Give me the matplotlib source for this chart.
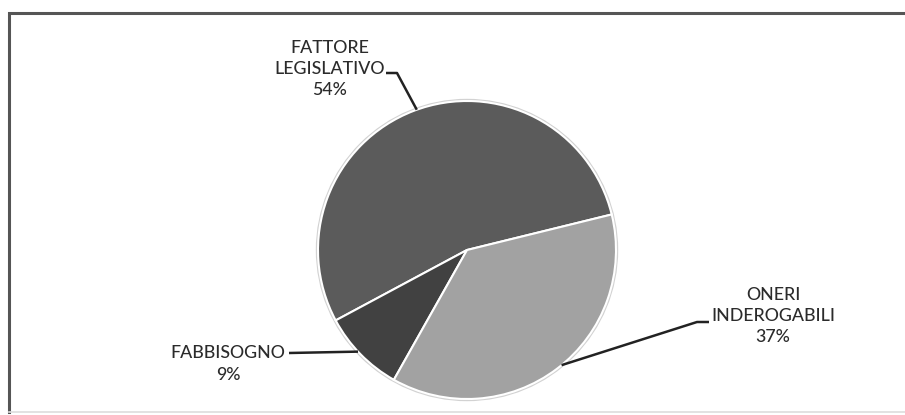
import numpy as np
import matplotlib
matplotlib.use("Agg")
import matplotlib.pyplot as plt
from matplotlib.patches import Circle

# Share of each component (percent)
categories = ["FATTORE\nLEGISLATIVO", "FABBISOGNO", "ONERI\nINDEROGABILI"]
values = [54, 9, 37]
colors = ["#5b5b5b", "#414141", "#a2a2a2"]

W, H = 905, 415
fig = plt.figure(figsize=(W / 100, H / 100), dpi=100)
ax = fig.add_axes([0, 0, 1, 1])

cx, cy, r = 467, H - 250, 149
start = 13.8

# soft halo around the pie
ax.add_patch(Circle((cx, cy), r + 2.2, facecolor="#d2d2d2", edgecolor="none", zorder=1))
wedges, _ = ax.pie(values, colors=colors, startangle=start, counterclock=True,
                   center=(cx, cy), radius=r,
                   wedgeprops=dict(edgecolor="white", linewidth=1.5), frame=True)
for w in wedges:
    w.set_zorder(2)

ax.set_xlim(0, W)
ax.set_ylim(0, H)
ax.set_aspect("equal")
ax.axis("off")

# chart frame
ax.plot([9, 9, W + 5], [H - 412, H - 13, H - 13], color="#555555", lw=2.2,
        solid_joinstyle="miter", clip_on=False, zorder=5)
ax.plot([9, W + 5], [H - 412, H - 412], color="#dddddd", lw=1.2, zorder=5)

font = dict(family=["Lato", "DejaVu Sans"], fontsize=12.8, color="#2b2b2b",
            fontweight="medium", ha="center", va="center", linespacing=1.42)

# label text positions (pixel coords) and leader line routing
label_pos = [(330, 69), (228, 364), (773, 316)]
elbows = [[(386, 73), (397, 73)], [(289, 353)], [(709, 322), (697, 322)]]
edge_angles = [109.7, 223.0, -50.6]

for cat, val, (lx, ly), elbow, ang in zip(categories, values, label_pos, elbows, edge_angles):
    ax.text(lx, H - ly, f"{cat}\n{val}%", zorder=6, **font)
    ex = cx + r * np.cos(np.radians(ang))
    ey = cy + r * np.sin(np.radians(ang))
    xs = [p[0] for p in elbow] + [ex]
    ys = [H - p[1] for p in elbow] + [ey]
    ax.plot(xs, ys, color="#222222", lw=1.8, zorder=4, solid_capstyle="butt")

fig.savefig("out.png", dpi=100, facecolor="white")
